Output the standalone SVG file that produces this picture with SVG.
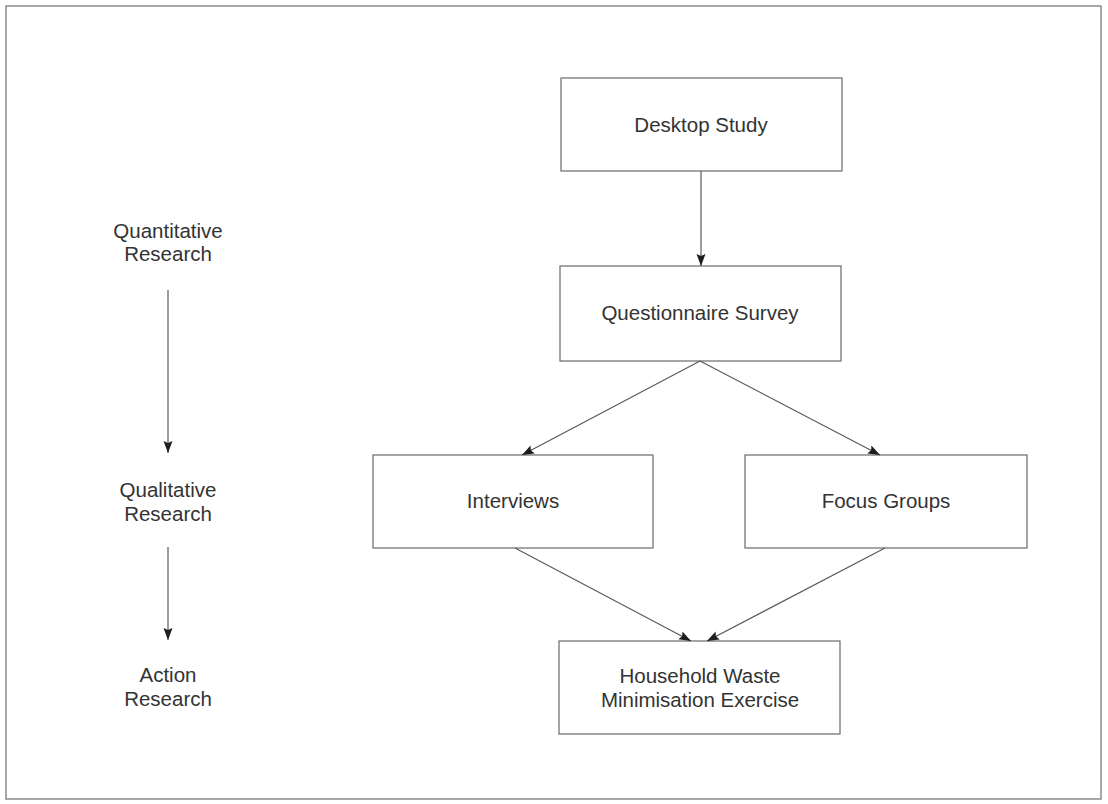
<svg xmlns="http://www.w3.org/2000/svg" width="1108" height="804" viewBox="0 0 1108 804">
  <style>
    .box { fill: #ffffff; stroke: #6a6a6a; stroke-width: 1.2; }
    .lbl { font-family: "Liberation Sans", Arial, sans-serif; font-size: 20.5px; fill: #333333; text-anchor: middle; }
    .edge { fill: none; stroke: #5a5a5a; stroke-width: 1.2; marker-end: url(#arrow); }
  </style>
  <defs>
    <marker id="arrow" viewBox="0 0 12 10" refX="12" refY="5" markerWidth="12" markerHeight="10" markerUnits="userSpaceOnUse" orient="auto">
      <path d="M0,0.5 L12,5 L0,9.5 L2,5 Z" fill="#1e1e1e"/>
    </marker>
  </defs>

  <rect width="1108" height="804" fill="#ffffff"/>
  <!-- outer frame -->
  <rect x="6" y="6" width="1095" height="793" fill="none" stroke="#8a8a8a" stroke-width="1.5"/>

  <!-- research stage labels -->
  <g id="quantitative">
    <text class="lbl" x="168" y="238">Quantitative</text>
    <text class="lbl" x="168" y="261">Research</text>
  </g>
  <g id="qualitative">
    <text class="lbl" x="168" y="497">Qualitative</text>
    <text class="lbl" x="168" y="521">Research</text>
  </g>
  <g id="action">
    <text class="lbl" x="168" y="682">Action</text>
    <text class="lbl" x="168" y="706">Research</text>
  </g>

  <!-- process boxes -->
  <g id="desktop-study">
    <rect class="box" x="561" y="78" width="281" height="93"/>
    <text class="lbl" x="701" y="132">Desktop Study</text>
  </g>
  <g id="questionnaire-survey">
    <rect class="box" x="560" y="266" width="281" height="95"/>
    <text class="lbl" x="700" y="320">Questionnaire Survey</text>
  </g>
  <g id="interviews">
    <rect class="box" x="373" y="455" width="280" height="93"/>
    <text class="lbl" x="513" y="508">Interviews</text>
  </g>
  <g id="focus-groups">
    <rect class="box" x="745" y="455" width="282" height="93"/>
    <text class="lbl" x="886" y="508">Focus Groups</text>
  </g>
  <g id="household-waste">
    <rect class="box" x="559" y="641" width="281" height="93"/>
    <text class="lbl" x="700" y="683">Household Waste</text>
    <text class="lbl" x="700" y="707">Minimisation Exercise</text>
  </g>

  <!-- connectors -->
  <g id="connectors">
    <line class="edge" x1="168" y1="290" x2="168" y2="453"/>
    <line class="edge" x1="168" y1="547" x2="168" y2="640"/>
    <line class="edge" x1="701" y1="171" x2="701" y2="266"/>
    <line class="edge" x1="700" y1="361" x2="522" y2="455"/>
    <line class="edge" x1="700" y1="361" x2="880" y2="455"/>
    <line class="edge" x1="515" y1="548" x2="691" y2="641"/>
    <line class="edge" x1="885" y1="548" x2="707" y2="641"/>
  </g>
</svg>
